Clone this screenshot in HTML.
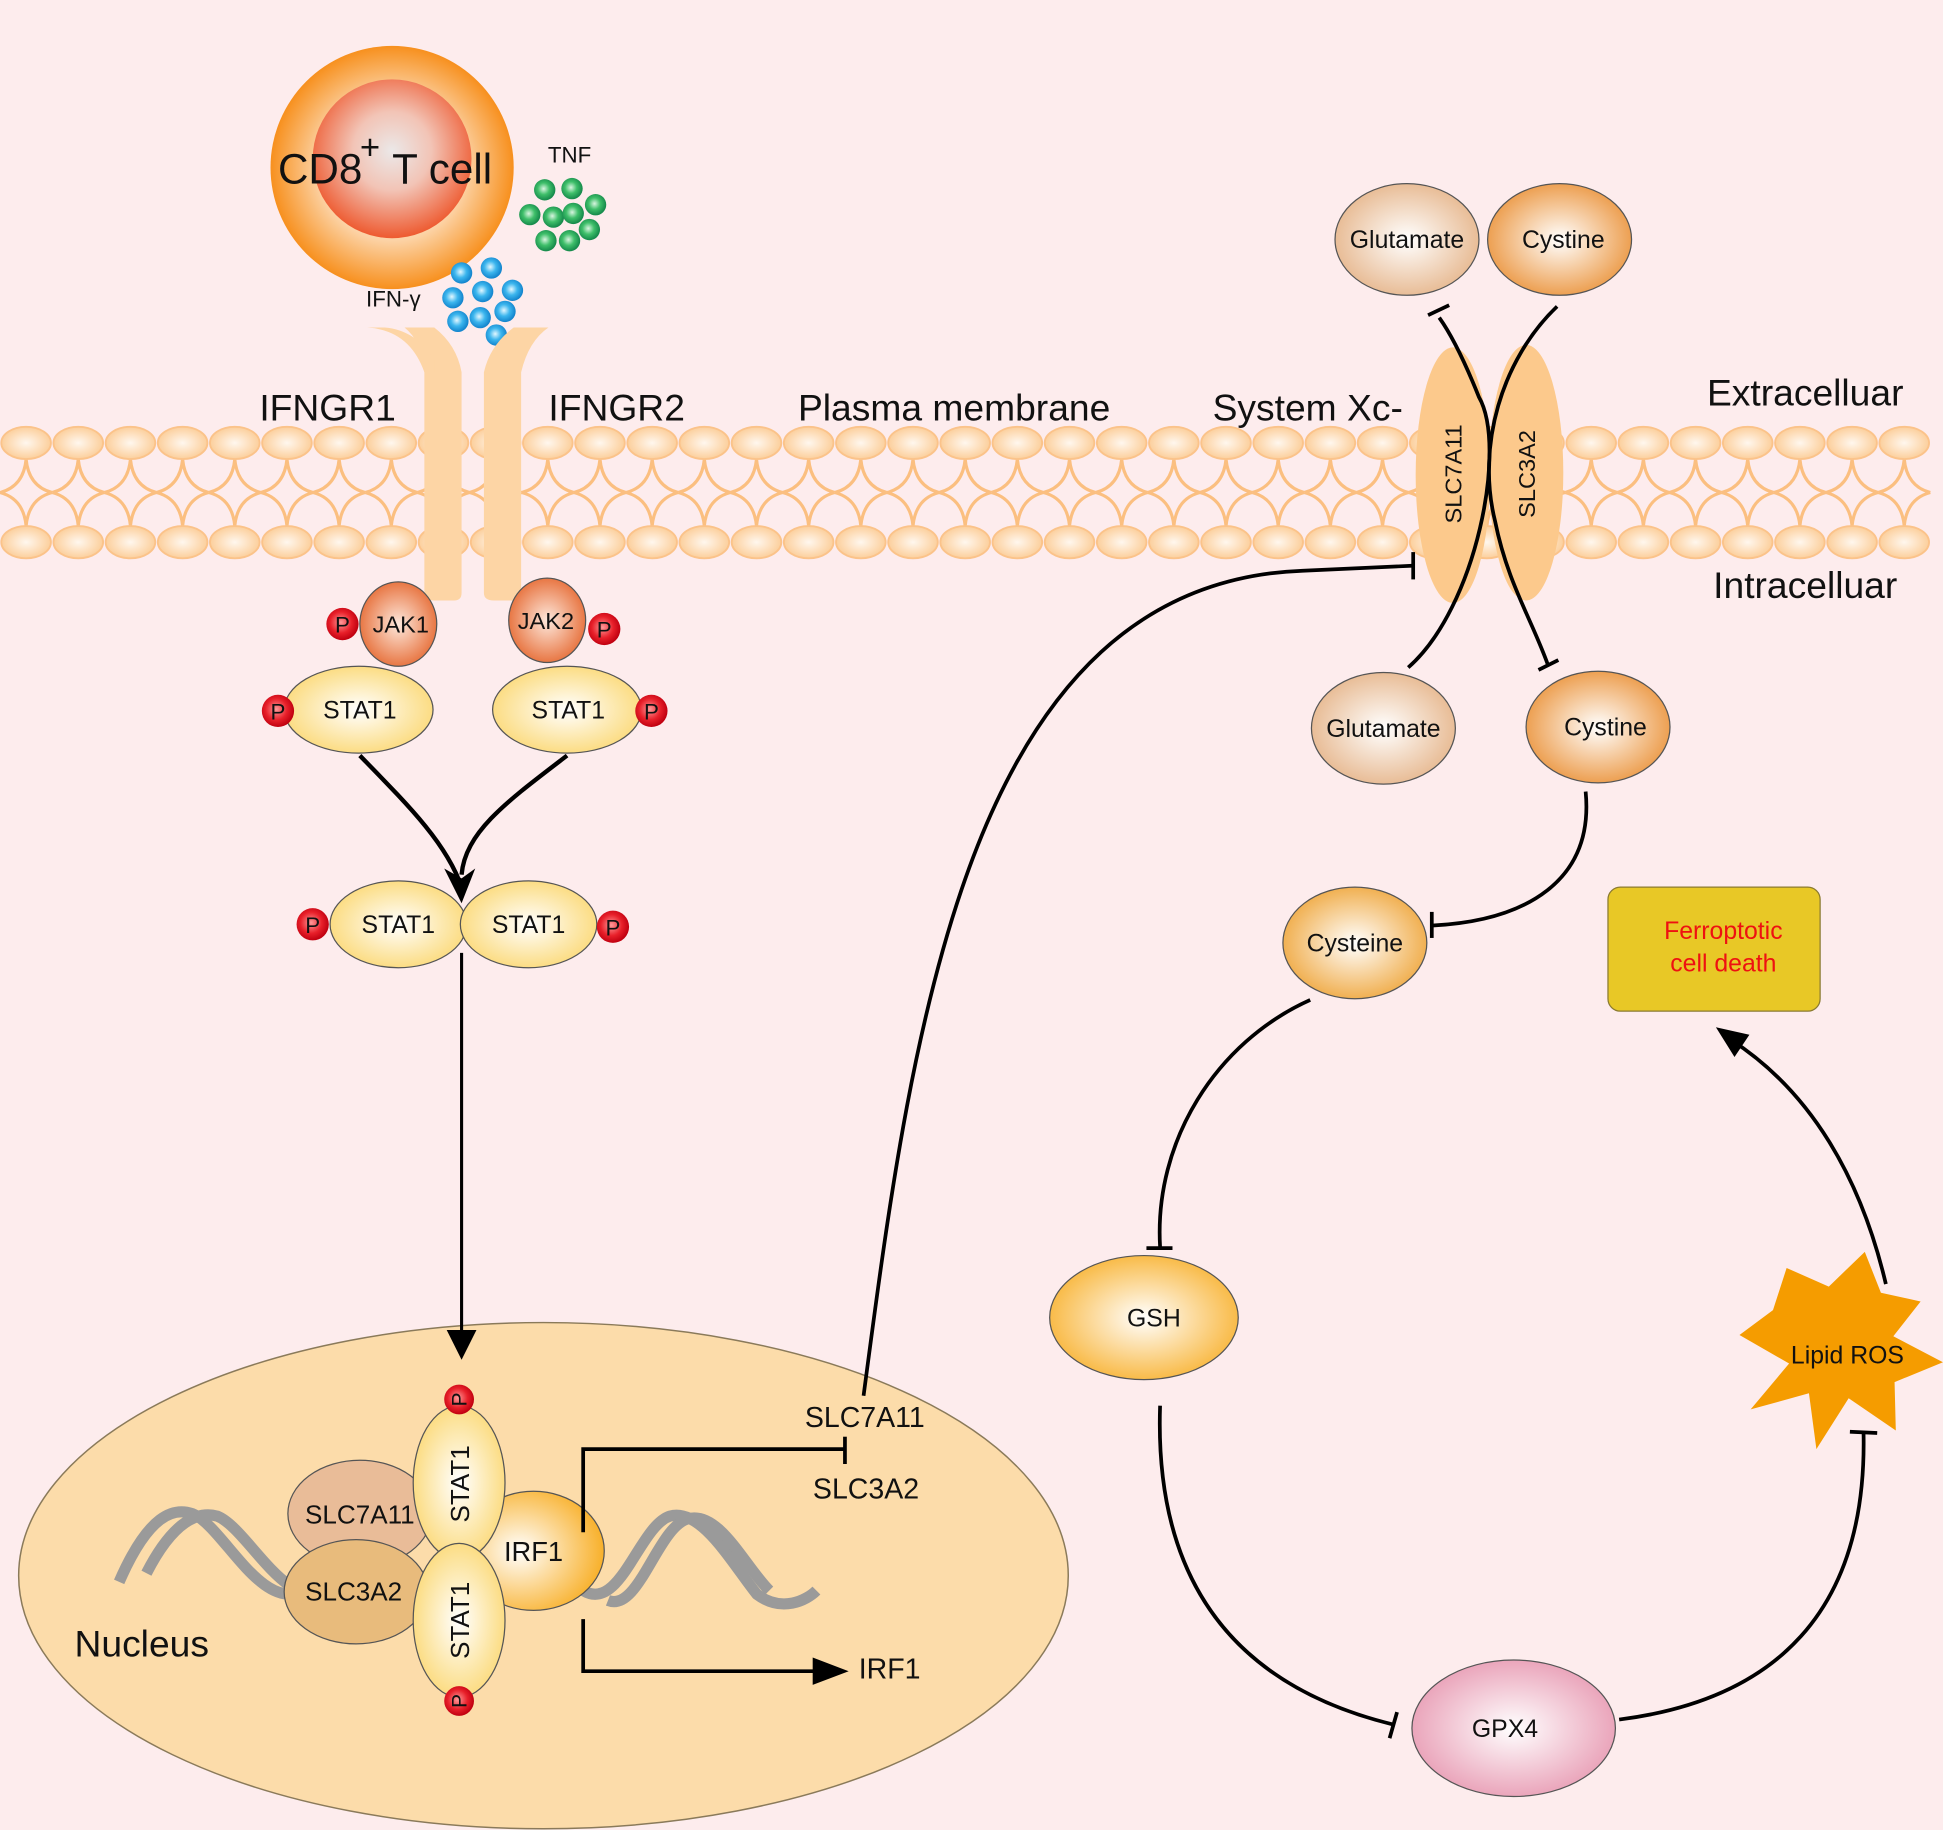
<!DOCTYPE html>
<html><head><meta charset="utf-8"><style>
html,body{margin:0;padding:0;background:#fdeced;}
svg{display:block;}
text{font-family:"Liberation Sans",Arial,sans-serif;fill:#111;}
</style></head><body>
<svg width="1943" height="1830" viewBox="0 0 1566 1475" xmlns="http://www.w3.org/2000/svg">
<defs>
<radialGradient id="gCellO" cx="50%" cy="50%" r="50%"><stop offset="0.6" stop-color="#fcd3a6"/><stop offset="1" stop-color="#f7901e"/></radialGradient>
<radialGradient id="gCellI" cx="50%" cy="45%" r="55%"><stop offset="0" stop-color="#ebe8e8"/><stop offset="0.45" stop-color="#f2c4b6"/><stop offset="1" stop-color="#ee5a30"/></radialGradient>
<radialGradient id="gHead" cx="50%" cy="50%" r="50%"><stop offset="0" stop-color="#fff7ee"/><stop offset="1" stop-color="#fccf9c"/></radialGradient>
<radialGradient id="gGreen" cx="45%" cy="45%" r="55%"><stop offset="0" stop-color="#d8f5e0"/><stop offset="0.5" stop-color="#3fbf6a"/><stop offset="1" stop-color="#14884a"/></radialGradient>
<radialGradient id="gBlue" cx="45%" cy="45%" r="55%"><stop offset="0" stop-color="#e2f7ff"/><stop offset="0.5" stop-color="#3cb6ee"/><stop offset="1" stop-color="#1283cc"/></radialGradient>
<radialGradient id="gJak" cx="50%" cy="50%" r="55%"><stop offset="0" stop-color="#fde8dc"/><stop offset="1" stop-color="#e66b34"/></radialGradient>
<radialGradient id="gStat" cx="50%" cy="50%" r="55%"><stop offset="0" stop-color="#ffffff"/><stop offset="1" stop-color="#fbd977"/></radialGradient>
<radialGradient id="gP" cx="45%" cy="45%" r="55%"><stop offset="0" stop-color="#ff9a9a"/><stop offset="0.6" stop-color="#e8202a"/><stop offset="1" stop-color="#c00010"/></radialGradient>
<radialGradient id="gIrf" cx="40%" cy="50%" r="60%"><stop offset="0" stop-color="#ffffff"/><stop offset="1" stop-color="#f8b02a"/></radialGradient>
<radialGradient id="gGlu" cx="50%" cy="50%" r="55%"><stop offset="0" stop-color="#ffffff"/><stop offset="1" stop-color="#e6b68c"/></radialGradient>
<radialGradient id="gCys" cx="50%" cy="50%" r="55%"><stop offset="0" stop-color="#ffffff"/><stop offset="1" stop-color="#eb9640"/></radialGradient>
<radialGradient id="gCyst" cx="50%" cy="50%" r="55%"><stop offset="0" stop-color="#ffffff"/><stop offset="1" stop-color="#efa840"/></radialGradient>
<radialGradient id="gGsh" cx="50%" cy="50%" r="55%"><stop offset="0" stop-color="#ffffff"/><stop offset="1" stop-color="#f8b436"/></radialGradient>
<radialGradient id="gGpx" cx="50%" cy="50%" r="55%"><stop offset="0" stop-color="#ffffff"/><stop offset="1" stop-color="#e89cb4"/></radialGradient>
</defs>
<rect width="1566" height="1475" fill="#fdeced"/>

<g id="mem"></g>

<circle cx="316" cy="135" r="98" fill="url(#gCellO)"/>
<circle cx="316" cy="128" r="64" fill="url(#gCellI)"/>
<text x="224" y="148" font-size="34">CD8</text>
<text x="290" y="128" font-size="28">+</text>
<text x="316" y="148" font-size="34">T cell</text>
<text x="459" y="131" font-size="18" text-anchor="middle">TNF</text>
<g fill="url(#gGreen)">
<circle cx="439" cy="153" r="8.6"/><circle cx="461" cy="152" r="8.6"/><circle cx="480" cy="165" r="8.6"/><circle cx="427" cy="173" r="8.6"/><circle cx="446" cy="175" r="8.6"/><circle cx="462" cy="172" r="8.6"/><circle cx="475" cy="185" r="8.6"/><circle cx="440" cy="194" r="8.6"/><circle cx="459" cy="194" r="8.6"/>
</g>
<text x="317" y="247" font-size="18" text-anchor="middle">IFN-γ</text>
<g fill="url(#gBlue)">
<circle cx="372" cy="220" r="8.6"/><circle cx="396" cy="216" r="8.6"/><circle cx="365" cy="240" r="8.6"/><circle cx="389" cy="235" r="8.6"/><circle cx="413" cy="234" r="8.6"/><circle cx="369" cy="259" r="8.6"/><circle cx="387" cy="256" r="8.6"/><circle cx="407" cy="251" r="8.6"/><circle cx="400" cy="270" r="8.6"/>
</g>

<!-- receptors -->
<path d="M296,264 L326,264 Q340,275 342,300 L342,478 Q342,484 350,484 L366,484 Q372,484 372,478 L372,300 Q368,278 350,264 Z" fill="#fdd5a5"/>
<path d="M296,264 Q330,266 342,300 L350,300 L350,290 Q335,266 310,264 Z" fill="#fdd5a5"/>
<path d="M468,264 L442,264 Q426,275 420,300 L420,478 Q420,484 412,484 L398,484 Q390,484 390,478 L390,300 Q395,278 414,264 Z" fill="#fdd5a5"/>

<text x="264" y="339" font-size="30" text-anchor="middle">IFNGR1</text>
<text x="497" y="339" font-size="30" text-anchor="middle">IFNGR2</text>
<text x="769" y="339" font-size="30" text-anchor="middle">Plasma membrane</text>
<text x="1054" y="339" font-size="30" text-anchor="middle">System Xc-</text>
<text x="1455" y="327" font-size="30" text-anchor="middle">Extracelluar</text>
<text x="1455" y="482" font-size="30" text-anchor="middle">Intracelluar</text>

<ellipse cx="321" cy="503" rx="31" ry="34" fill="url(#gJak)" stroke="#555" stroke-width="1"/>
<text x="323" y="510" font-size="19" text-anchor="middle">JAK1</text>
<circle cx="276" cy="503" r="13" fill="url(#gP)"/><text x="276" y="510" font-size="18" text-anchor="middle">P</text>
<ellipse cx="441" cy="500" rx="31" ry="34" fill="url(#gJak)" stroke="#555" stroke-width="1"/>
<text x="440" y="507" font-size="19" text-anchor="middle">JAK2</text>
<circle cx="487" cy="507" r="13" fill="url(#gP)"/><text x="487" y="514" font-size="18" text-anchor="middle">P</text>

<ellipse cx="289" cy="572" rx="60" ry="35" fill="url(#gStat)" stroke="#555" stroke-width="1"/>
<text x="290" y="579" font-size="20" text-anchor="middle">STAT1</text>
<circle cx="224" cy="573" r="13" fill="url(#gP)"/><text x="224" y="580" font-size="18" text-anchor="middle">P</text>
<ellipse cx="457" cy="572" rx="60" ry="35" fill="url(#gStat)" stroke="#555" stroke-width="1"/>
<text x="458" y="579" font-size="20" text-anchor="middle">STAT1</text>
<circle cx="525" cy="573" r="13" fill="url(#gP)"/><text x="525" y="580" font-size="18" text-anchor="middle">P</text>

<path d="M290,609 C330,650 360,680 372,715" fill="none" stroke="#000" stroke-width="3.5"/>
<path d="M457,609 C410,645 375,670 372,705" fill="none" stroke="#000" stroke-width="3.5"/>
<path d="M358,700 L372,728 L383,700 L372,708 Z" fill="#000"/>

<ellipse cx="321" cy="745" rx="55" ry="35" fill="url(#gStat)" stroke="#555" stroke-width="1"/>
<text x="321" y="752" font-size="20" text-anchor="middle">STAT1</text>
<ellipse cx="426" cy="745" rx="55" ry="35" fill="url(#gStat)" stroke="#555" stroke-width="1"/>
<text x="426" y="752" font-size="20" text-anchor="middle">STAT1</text>
<circle cx="252" cy="745" r="13" fill="url(#gP)"/><text x="252" y="752" font-size="18" text-anchor="middle">P</text>
<circle cx="494" cy="747" r="13" fill="url(#gP)"/><text x="494" y="754" font-size="18" text-anchor="middle">P</text>

<!-- nucleus -->
<ellipse cx="438" cy="1270" rx="423" ry="204" fill="#fcdcaa" stroke="#8a7a5a" stroke-width="1.2"/>
<text x="60" y="1335" font-size="30">Nucleus</text>

<line x1="372" y1="768" x2="372" y2="1075" stroke="#000" stroke-width="2.5"/>
<path d="M360,1072 L372,1096 L384,1072 Z" fill="#000"/>

<g fill="none" stroke="#9a9a9a" stroke-width="9">
<path d="M96,1275 C120,1220 140,1215 155,1220 C180,1230 210,1300 245,1282"/>
<path d="M118,1268 C140,1225 160,1218 175,1222 C200,1232 230,1300 265,1282"/>
<path d="M470,1282 C500,1300 515,1230 540,1222 C565,1215 590,1260 610,1285 C630,1300 650,1290 658,1282"/>
<path d="M490,1290 C515,1300 530,1230 555,1224 C580,1218 600,1262 620,1282"/>
</g>

<ellipse cx="290" cy="1220" rx="58" ry="43" fill="#e9bc98" stroke="#555" stroke-width="1"/>
<text x="290" y="1228" font-size="21" text-anchor="middle">SLC7A11</text>
<ellipse cx="287" cy="1283" rx="58" ry="42" fill="#e8bb7c" stroke="#555" stroke-width="1"/>
<text x="285" y="1290" font-size="21" text-anchor="middle">SLC3A2</text>
<ellipse cx="430" cy="1250" rx="57" ry="48" fill="url(#gIrf)" stroke="#555" stroke-width="1"/>
<text x="430" y="1258" font-size="22" text-anchor="middle">IRF1</text>
<ellipse cx="370" cy="1195" rx="37" ry="62" fill="url(#gStat)" stroke="#555" stroke-width="1"/>
<text transform="translate(378,1196) rotate(-90)" font-size="21" text-anchor="middle">STAT1</text>
<ellipse cx="370" cy="1306" rx="37" ry="62" fill="url(#gStat)" stroke="#555" stroke-width="1"/>
<text transform="translate(378,1306) rotate(-90)" font-size="21" text-anchor="middle">STAT1</text>
<circle cx="370" cy="1128" r="12" fill="url(#gP)"/><text transform="translate(376,1128) rotate(-90)" font-size="17" text-anchor="middle">P</text>
<circle cx="370" cy="1371" r="12" fill="url(#gP)"/><text transform="translate(376,1371) rotate(-90)" font-size="17" text-anchor="middle">P</text>

<path d="M470,1235 L470,1168 L680,1168" fill="none" stroke="#000" stroke-width="3"/>
<line x1="681" y1="1158" x2="681" y2="1180" stroke="#000" stroke-width="3"/>
<text x="697" y="1150" font-size="23" text-anchor="middle">SLC7A11</text>
<text x="698" y="1208" font-size="23" text-anchor="middle">SLC3A2</text>
<path d="M470,1305 L470,1347 L660,1347" fill="none" stroke="#000" stroke-width="3"/>
<path d="M655,1336 L684,1347 L655,1358 Z" fill="#000"/>
<text x="717" y="1353" font-size="23" text-anchor="middle">IRF1</text>

<path d="M696,1125 C735,830 780,470 1050,460 L1138,456" fill="none" stroke="#000" stroke-width="3"/>
<line x1="1139" y1="445" x2="1139" y2="467" stroke="#000" stroke-width="3"/>

<ellipse cx="1171" cy="383" rx="30" ry="103" fill="#fcc98c"/>
<ellipse cx="1230" cy="381" rx="30" ry="103" fill="#fcc98c"/>
<text transform="translate(1178,382) rotate(-90)" font-size="19" text-anchor="middle">SLC7A11</text>
<text transform="translate(1237,382) rotate(-90)" font-size="19" text-anchor="middle">SLC3A2</text>
<path d="M1135,538 C1190,490 1215,360 1192,320 C1180,290 1170,270 1160,256" fill="none" stroke="#000" stroke-width="3"/>
<line x1="1151" y1="254" x2="1168" y2="246" stroke="#000" stroke-width="3"/>
<path d="M1255,247 C1210,290 1190,360 1205,420 C1215,470 1235,500 1248,537" fill="none" stroke="#000" stroke-width="3"/>
<line x1="1240" y1="540" x2="1256" y2="532" stroke="#000" stroke-width="3"/>

<ellipse cx="1134" cy="193" rx="58" ry="45" fill="url(#gGlu)" stroke="#555" stroke-width="1"/>
<text x="1134" y="200" font-size="20" text-anchor="middle">Glutamate</text>
<ellipse cx="1257" cy="193" rx="58" ry="45" fill="url(#gCys)" stroke="#555" stroke-width="1"/>
<text x="1260" y="200" font-size="20" text-anchor="middle">Cystine</text>
<ellipse cx="1115" cy="587" rx="58" ry="45" fill="url(#gGlu)" stroke="#555" stroke-width="1"/>
<text x="1115" y="594" font-size="20" text-anchor="middle">Glutamate</text>
<ellipse cx="1288" cy="586" rx="58" ry="45" fill="url(#gCys)" stroke="#555" stroke-width="1"/>
<text x="1294" y="593" font-size="20" text-anchor="middle">Cystine</text>

<path d="M1278,638 C1285,710 1230,742 1155,746" fill="none" stroke="#000" stroke-width="3"/>
<line x1="1154" y1="735" x2="1154" y2="756" stroke="#000" stroke-width="3"/>
<ellipse cx="1092" cy="760" rx="58" ry="45" fill="url(#gCyst)" stroke="#555" stroke-width="1"/>
<text x="1092" y="767" font-size="20" text-anchor="middle">Cysteine</text>

<path d="M1056,806 C980,840 930,920 935,1005" fill="none" stroke="#000" stroke-width="3"/>
<line x1="924" y1="1006" x2="945" y2="1006" stroke="#000" stroke-width="3"/>
<ellipse cx="922" cy="1062" rx="76" ry="50" fill="url(#gGsh)" stroke="#555" stroke-width="1"/>
<text x="930" y="1069" font-size="20" text-anchor="middle">GSH</text>

<path d="M935,1133 C930,1280 1000,1360 1123,1390" fill="none" stroke="#000" stroke-width="3"/>
<line x1="1120" y1="1401" x2="1126" y2="1380" stroke="#000" stroke-width="3"/>
<ellipse cx="1220" cy="1393" rx="82" ry="55" fill="url(#gGpx)" stroke="#555" stroke-width="1"/>
<text x="1213" y="1400" font-size="20" text-anchor="middle">GPX4</text>

<path d="M1305,1386 C1430,1370 1505,1300 1502,1155" fill="none" stroke="#000" stroke-width="3"/>
<line x1="1491" y1="1154" x2="1513" y2="1155" stroke="#000" stroke-width="3"/>

<polygon points="1440,1022 1474,1037 1503,1009 1516,1042 1548,1049 1526,1077 1566,1098 1527,1114 1528,1153 1490,1127 1464,1168 1458,1123 1411,1136 1442,1099 1402,1076 1429,1056" fill="#f59c00"/>
<text x="1489" y="1099" font-size="20" text-anchor="middle">Lipid ROS</text>

<path d="M1520,1035 C1500,950 1460,880 1395,838" fill="none" stroke="#000" stroke-width="3"/>
<path d="M1383,828 L1410,834 L1398,852 Z" fill="#000"/>

<rect x="1296" y="715" width="171" height="100" rx="10" fill="#e8c826" stroke="#8a7a30" stroke-width="1"/>
<text x="1389" y="757" font-size="20" text-anchor="middle" style="fill:#ee1111">Ferroptotic</text>
<text x="1389" y="783" font-size="20" text-anchor="middle" style="fill:#ee1111">cell death</text>
</svg>
<script>
(function(){
 var g=document.getElementById("mem"),s="";
 for(var x=21;x<1566;x+=42.05){
  s+='<path d="M'+x+',370 Q'+(x+2)+',392 '+(x+21)+',397 M'+x+',370 Q'+(x-2)+',392 '+(x-21)+',397 M'+x+',424 Q'+(x+2)+',402 '+(x+21)+',397 M'+x+',424 Q'+(x-2)+',402 '+(x-21)+',397" fill="none" stroke="#fbbf80" stroke-width="2.5"/>';
  s+='<ellipse cx="'+x+'" cy="357" rx="20" ry="13" fill="url(#gHead)" stroke="#fbc38a" stroke-width="1.5"/>';
  s+='<ellipse cx="'+x+'" cy="437" rx="20" ry="13" fill="url(#gHead)" stroke="#fbc38a" stroke-width="1.5"/>';
 }
 g.innerHTML=s;
})();
</script>
</body></html>
